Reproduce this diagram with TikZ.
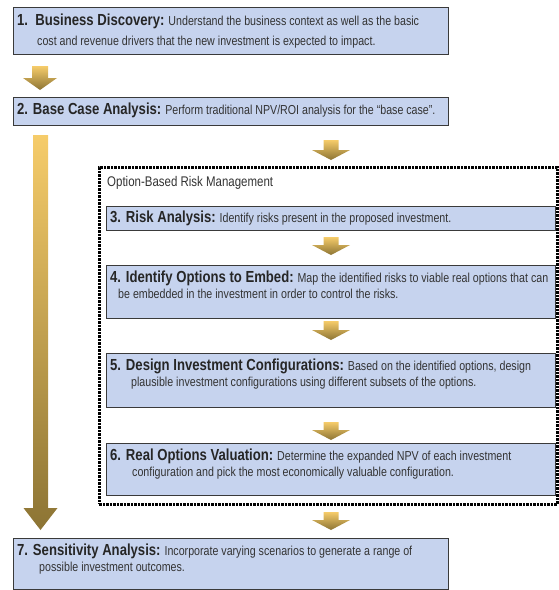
\documentclass[tikz,border=0pt]{standalone}
\usepackage{fontspec}
\setmainfont{Liberation Sans}[FakeStretch=0.82]

\definecolor{boxblue}{HTML}{C6D3EE}
\definecolor{boxline}{HTML}{3A3A3A}
\definecolor{goldlight}{HTML}{F6CC6A}
\definecolor{golddark}{HTML}{8C7434}
\definecolor{txtgray}{HTML}{333333}

\tikzset{
  stepbox/.style={draw=boxline, line width=1.1pt, fill=boxblue, anchor=north west, inner sep=0pt},
  steptext/.style={anchor=north west, align=left, inner xsep=4pt, inner ysep=6pt,
    font=\fontsize{13}{16}\selectfont, text=txtgray},
  ormframe/.style={draw=black, line width=2.5pt, dash pattern=on 2.6pt off 0.9pt, anchor=north west},
  % down arrow: length / shaft half width / head half width / head length
  pics/flow/.style n args={4}{code={
    \shade[top color=goldlight, bottom color=golddark]
      (-#2,0) -- (#2,0) -- (#2,#1-#4) -- (#3,#1-#4) -- (0,#1) -- (-#3,#1-#4) -- (-#2,#1-#4) -- cycle;
  }},
}
\newcommand{\stephead}[1]{{\fontsize{16}{16}\selectfont\bfseries\color{black!85}#1}}

\begin{document}
\begin{tikzpicture}[x=1pt, y=-1pt]
\useasboundingbox (0,0) rectangle (558,590);

% steps outside the frame
\node[stepbox, minimum width=435pt, minimum height=47pt] (b1) at (13,7) {};
\node[steptext, font=\fontsize{13}{20}\selectfont, inner ysep=7pt] (t1) at (b1.north west)
  {\stephead{1.\ \ Business Discovery:} Understand the business context as well as the basic\\
   \hspace*{20pt}cost and revenue drivers that the new investment is expected to impact.};
\node[stepbox, minimum width=435pt, minimum height=28pt] (b2) at (13,97) {};
\node[steptext] (t2) at (b2.north west)
  {\stephead{2. Base Case Analysis:} Perform traditional NPV/ROI analysis for the ``base case''.};

% option-based risk management frame
\node[ormframe, minimum width=458pt, minimum height=337pt] (orm) at (98,166) {};
\node[anchor=west, font=\fontsize{14}{16}\selectfont, text=txtgray, inner sep=0pt] (ormtitle) at (107,183)
  {Option-Based Risk Management};

\node[stepbox, minimum width=449pt, minimum height=24pt] (b3) at (106,206) {};
\node[steptext, inner ysep=5pt] (t3) at (b3.north west)
  {\stephead{3. Risk Analysis:} Identify risks present in the proposed investment.};
\node[stepbox, minimum width=449pt, minimum height=53pt] (b4) at (106,265) {};
\node[steptext] (t4) at (b4.north west)
  {\stephead{4. Identify Options to Embed:} Map the identified risks to viable real options that can\\
   \hspace*{8pt}be embedded in the investment in order to control the risks.};
\node[stepbox, minimum width=449pt, minimum height=54pt] (b5) at (106,353) {};
\node[steptext] (t5) at (b5.north west)
  {\stephead{5. Design Investment Configurations:} Based on the identified options, design\\
   \hspace*{21pt}plausible investment configurations using different subsets of the options.};
\node[stepbox, minimum width=449pt, minimum height=52pt] (b6) at (106,443) {};
\node[steptext] (t6) at (b6.north west)
  {\stephead{6. Real Options Valuation:} Determine the expanded NPV of each investment\\
   \hspace*{22pt}configuration and pick the most economically valuable configuration.};

\node[stepbox, minimum width=435pt, minimum height=51pt] (b7) at (13,538) {};
\node[steptext] (t7) at (b7.north west)
  {\stephead{7. Sensitivity Analysis:} Incorporate varying scenarios to generate a range of\\
   \hspace*{22pt}possible investment outcomes.};

% block arrows
\pic (a12) at (40,66) {flow={24}{8}{17}{12}};
\pic (a2) at (331,140) {flow={20}{7.5}{19}{10}};
\pic (a34) at (331,237) {flow={18}{7.5}{19}{10}};
\pic (a45) at (331,321) {flow={19}{7.5}{19}{10}};
\pic (a56) at (331,422) {flow={18}{7.5}{19}{10}};
\pic (a67) at (331,512) {flow={18}{7.5}{19}{10}};
\pic (along) at (40.5,135) {flow={395}{7.5}{17}{22}};
\end{tikzpicture}
\end{document}
